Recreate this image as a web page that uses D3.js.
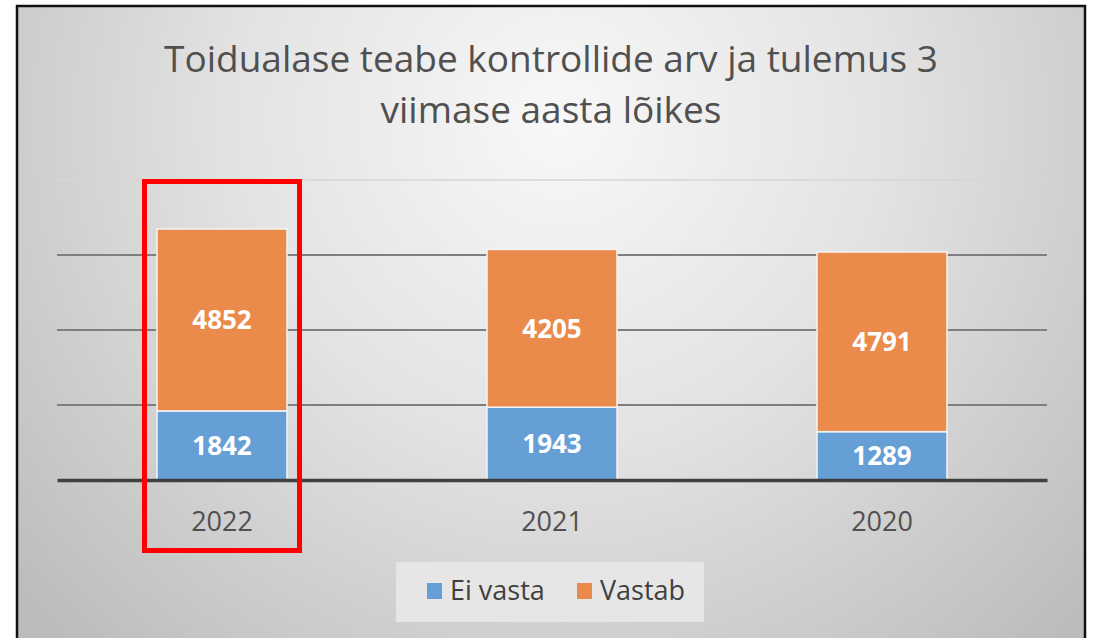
<!DOCTYPE html>
<html>
<head>
<meta charset="utf-8">
<script src="https://cdn.jsdelivr.net/npm/d3@7"></script>
<style>
  html, body { margin: 0; padding: 0; background: #fff; }
  svg { display: block; font-family: "Open Sans", "Noto Sans", sans-serif; }
</style>
</head>
<body>
<div id="chart"></div>
<script>
// data
const years = ["2022", "2021", "2020"];
const eiVasta = [1842, 1943, 1289];
const vastab = [4852, 4205, 4791];
const seriesNames = ["Ei vasta", "Vastab"];
const seriesColors = ["#669fd6", "#ea8a4b"];
const yTicks = [0, 2000, 4000, 6000, 8000];
const titleLines = ["Toidualase teabe kontrollide arv ja tulemus 3", "viimase aasta lõikes"];
const highlightYear = "2022";

const W = 1094, H = 638;
const margin = { top: 180, right: 47, bottom: 158, left: 57 };
const plotW = W - margin.left - margin.right;
const plotH = H - margin.top - margin.bottom;

const svg = d3.select("#chart").append("svg")
    .attr("width", W)
    .attr("height", H);

// background gradient, light in the middle, grey towards the edges
const defs = svg.append("defs");
const grad = defs.append("radialGradient")
    .attr("id", "bg")
    .attr("gradientUnits", "userSpaceOnUse")
    .attr("cx", 560).attr("cy", 120).attr("r", 720);
grad.append("stop").attr("offset", "0%").attr("stop-color", "#f8f8f8");
grad.append("stop").attr("offset", "45%").attr("stop-color", "#e3e3e3");
grad.append("stop").attr("offset", "100%").attr("stop-color", "#bcbcbc");

svg.append("rect")
    .attr("x", 17).attr("y", 6)
    .attr("width", 1068).attr("height", H)
    .attr("fill", "url(#bg)")
    .attr("stroke", "#111")
    .attr("stroke-width", 2.5);

const g = svg.append("g")
    .attr("transform", `translate(${margin.left},${margin.top})`);

const table = years.map((y, i) => ({ year: y, "Ei vasta": eiVasta[i], "Vastab": vastab[i] }));
const stacked = d3.stack().keys(seriesNames)(table);

const x = d3.scaleBand()
    .domain(years)
    .range([0, plotW])
    .paddingInner(0.606)
    .paddingOuter(0.303);

const y = d3.scaleLinear()
    .domain([0, 8000])
    .range([plotH, 0]);

const color = d3.scaleOrdinal().domain(seriesNames).range(seriesColors);

// gridlines
g.append("g")
    .selectAll("line")
    .data(yTicks.slice(1))
    .join("line")
    .attr("x1", 0).attr("x2", plotW)
    .attr("y1", d => y(d)).attr("y2", d => y(d))
    .attr("stroke", d => d === 8000 ? "#d6d6d6" : "#7f7f7f")
    .attr("stroke-width", d => d === 8000 ? 1.5 : 2);

// bars
const layers = g.append("g")
    .selectAll("g")
    .data(stacked)
    .join("g")
    .attr("fill", d => color(d.key));

layers.selectAll("rect")
    .data(d => d)
    .join("rect")
    .attr("x", d => x(d.data.year))
    .attr("y", d => y(d[1]))
    .attr("width", x.bandwidth())
    .attr("height", d => y(d[0]) - y(d[1]))
    .attr("stroke", "#f4f4f4")
    .attr("stroke-width", 1.5);

// data labels
layers.selectAll("text")
    .data(d => d)
    .join("text")
    .attr("x", d => x(d.data.year) + x.bandwidth() / 2)
    .attr("y", d => (y(d[0]) + y(d[1])) / 2)
    .attr("dy", "0.36em")
    .attr("text-anchor", "middle")
    .attr("fill", "#fff")
    .attr("font-weight", "bold")
    .attr("font-size", 26)
    .text(d => d[1] - d[0]);

// x axis
const xAxis = g.append("g")
    .attr("transform", `translate(0,${plotH})`)
    .call(d3.axisBottom(x).tickSize(0).tickPadding(32));
xAxis.select(".domain")
    .attr("stroke", "#404040")
    .attr("stroke-width", 3.5);
xAxis.selectAll("text")
    .attr("font-size", 27)
    .attr("font-family", "\"Open Sans\", sans-serif")
    .attr("fill", "#505050");

// title
svg.append("text")
    .attr("text-anchor", "middle")
    .attr("fill", "#505050")
    .attr("font-size", 37)
    .selectAll("tspan")
    .data(titleLines)
    .join("tspan")
    .attr("x", 551)
    .attr("y", (d, i) => 72 + i * 51)
    .text(d => d);

// highlight box around 2022
svg.append("rect")
    .attr("x", margin.left + x(highlightYear) - 12.5)
    .attr("y", 181.5)
    .attr("width", x.bandwidth() + 25)
    .attr("height", 369)
    .attr("fill", "none")
    .attr("stroke", "#ff0000")
    .attr("stroke-width", 5);

// legend
const legend = svg.append("g").attr("transform", "translate(396,562)");
legend.append("rect")
    .attr("width", 308).attr("height", 60)
    .attr("fill", "#e6e6e6");

const item = legend.selectAll("g.item")
    .data(seriesNames)
    .join("g")
    .attr("class", "item")
    .attr("transform", (d, i) => `translate(${i === 0 ? 31 : 181},0)`);
item.append("rect")
    .attr("y", 21).attr("width", 15).attr("height", 16)
    .attr("fill", d => color(d));
item.append("text")
    .attr("x", 23).attr("y", 38)
    .attr("font-size", 27)
    .attr("fill", "#404040")
    .text(d => d);
</script>
</body>
</html>
